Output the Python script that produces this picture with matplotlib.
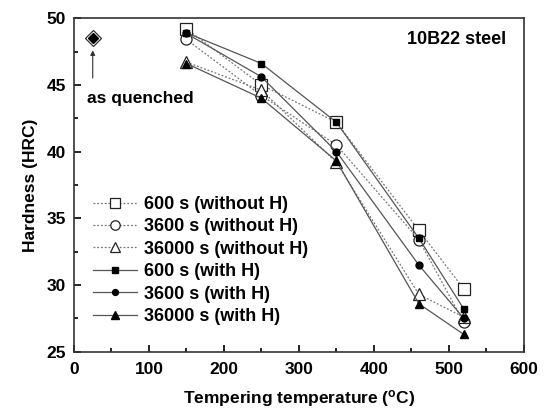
import matplotlib
matplotlib.use("Agg")
import matplotlib.pyplot as plt
from matplotlib.ticker import MultipleLocator

plt.rcParams['font.family'] = ['Liberation Sans', 'DejaVu Sans']
plt.rcParams['font.weight'] = 'bold'

temps = [150, 250, 350, 460, 520]
# hardness (HRC)
sq_noH = [49.2, 45.0, 42.2, 34.1, 29.7]
ci_noH = [48.4, 44.2, 40.5, 33.4, 27.2]
tr_noH = [46.7, 44.6, 39.2, 29.3, 27.6]
sq_H = [48.9, 46.6, 42.2, 33.5, 28.2]
ci_H = [48.85, 45.6, 40.0, 31.5, 27.5]
tr_H = [46.6, 44.0, 39.3, 28.6, 26.3]
quench_t = 25
quench_hrc = 48.5

labels = ['600 s (without H)', '3600 s (without H)', '36000 s (without H)',
          '600 s (with H)', '3600 s (with H)', '36000 s (with H)']

fig = plt.figure(figsize=(5.44, 4.12), dpi=100)
ax = fig.add_axes([0.136, 0.146, 0.827, 0.81])

dot = dict(color='#777777', linestyle=(0, (1.5, 1.5)), linewidth=0.9)
sol = dict(color='#555555', linestyle='-', linewidth=0.9)

ax.plot(temps, sq_noH, marker='s', markersize=8, mfc='white', mec='#222222', mew=0.9, label=labels[0], **dot)
ax.plot(temps, ci_noH, marker='o', markersize=8, mfc='white', mec='#222222', mew=0.9, label=labels[1], **dot)
ax.plot(temps, tr_noH, marker='^', markersize=9, mfc='white', mec='#222222', mew=0.9, label=labels[2], **dot)
ax.plot(temps, sq_H, marker='s', markersize=5, mfc='black', mec='black', label=labels[3], **sol)
ax.plot(temps, ci_H, marker='o', markersize=5, mfc='black', mec='black', label=labels[4], **sol)
ax.plot(temps, tr_H, marker='^', markersize=6, mfc='black', mec='black', label=labels[5], **sol)

ax.plot([quench_t], [quench_hrc], marker='D', markersize=8, mfc='white', mec='#333333', mew=0.9, linestyle='none')
ax.plot([quench_t], [quench_hrc], marker='D', markersize=5, mfc='black', mec='black', linestyle='none')
ax.annotate('', xy=(quench_t, 47.8), xytext=(quench_t, 45.3),
            arrowprops=dict(arrowstyle='-|>', color='#333333', lw=0.8, mutation_scale=7))
ax.text(17, 44.0, 'as quenched', fontsize=12.5, fontweight='bold', va='center', ha='left')
ax.text(0.96, 0.935, '10B22 steel', transform=ax.transAxes, fontsize=13, fontweight='bold',
        ha='right', va='center')

ax.set_xlim(0, 600)
ax.set_ylim(25, 50)
ax.xaxis.set_major_locator(MultipleLocator(100))
ax.xaxis.set_minor_locator(MultipleLocator(50))
ax.yaxis.set_major_locator(MultipleLocator(5))
ax.yaxis.set_minor_locator(MultipleLocator(2.5))
ax.tick_params(which='both', direction='in', top=False, right=False, labelsize=12.5, width=1.2)
ax.tick_params(which='major', length=5)
ax.tick_params(which='minor', length=3)
ax.tick_params(axis='x', which='major', pad=7)
ax.tick_params(axis='y', which='major', pad=6)
for sp in ax.spines.values():
    sp.set_linewidth(1.2)
    sp.set_color('#333333')
for t in ax.get_xticklabels() + ax.get_yticklabels():
    t.set_fontweight('bold')

ax.set_xlabel('Tempering temperature ($\\mathregular{^{o}}$C)', fontsize=12.5, fontweight='bold', labelpad=8)
ax.set_ylabel('Hardness (HRC)', fontsize=12.5, fontweight='bold', labelpad=6)

ax.legend(loc='upper left', bbox_to_anchor=(0.015, 0.505), frameon=False, fontsize=13,
          handlelength=2.4, labelspacing=0.3, handletextpad=0.4, borderaxespad=0.3,
          markerscale=0.85)

fig.savefig('out.png', dpi=100)
